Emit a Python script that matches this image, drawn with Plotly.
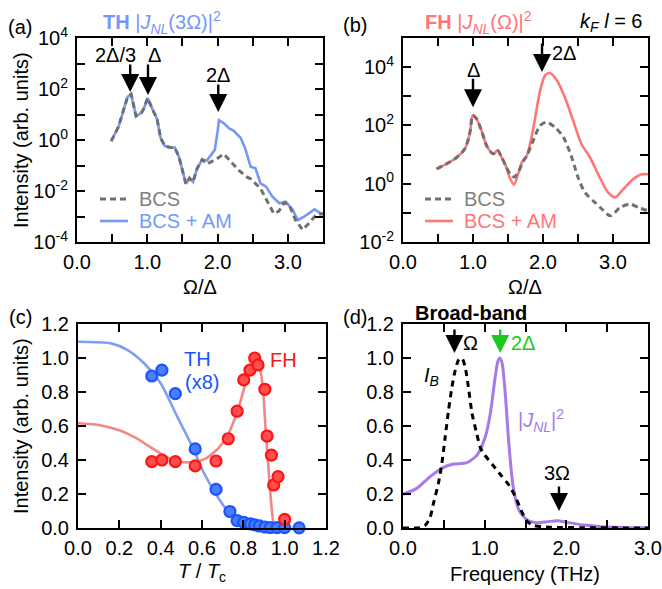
import plotly.graph_objects as go

W, H = 662, 589
FONT = "Liberation Sans, Arial, Helvetica, sans-serif"
FS = 20

# ---------------- (a) third harmonic, log scale ----------------
a_bcs_omega = [0.486, 0.59, 0.72, 0.77, 0.84, 0.92, 0.95, 1.005, 1.07, 1.14, 1.19, 1.25,
               1.33, 1.39, 1.45, 1.50, 1.55, 1.60, 1.65, 1.71, 1.78, 1.85, 1.97, 2.09,
               2.19, 2.30, 2.42, 2.47, 2.61, 2.71, 2.80, 2.87, 2.95, 3.02, 3.11, 3.21,
               3.30, 3.40, 3.50]
a_bcs_int = [0.9, 3.3, 50, 63, 8.7, 12, 17, 44, 17, 6.5, 1.2, 0.58,
             0.51, 0.51, 0.22, 0.066, 0.019, 0.032, 0.023, 0.078, 0.17, 0.115, 0.17, 0.28,
             0.14, 0.066, 0.035, 0.030, 0.0126, 0.0038, 0.0013, 0.0016, 0.0035, 0.0028,
             0.00072, 0.0003, 0.00054, 0.00115, 0.0013]
a_am_omega = [0.486, 0.59, 0.72, 0.77, 0.84, 0.92, 0.95, 1.005, 1.07, 1.14, 1.19, 1.25,
              1.33, 1.39, 1.45, 1.50, 1.55, 1.60, 1.65, 1.71, 1.78, 1.85, 1.88, 1.92,
              1.96, 2.0, 2.02, 2.09, 2.16, 2.23, 2.33, 2.40, 2.47, 2.54, 2.61, 2.69,
              2.78, 2.88, 2.97, 3.07, 3.14, 3.23, 3.38, 3.50]
a_am_int = [0.9, 3.3, 50, 63, 8.7, 12, 17, 44, 17, 6.5, 1.2, 0.58,
            0.51, 0.51, 0.22, 0.066, 0.019, 0.032, 0.023, 0.078, 0.17, 0.16, 0.21, 0.28,
            0.41, 2.1, 6.0, 4.5, 2.9, 2.3, 1.2, 0.41, 0.089, 0.078, 0.020, 0.0148,
            0.006, 0.0033, 0.0038, 0.0018, 0.00072, 0.00098, 0.0019, 0.00115]

# ---------------- (b) fundamental harmonic, log scale ----------------
b_bcs_omega = [0.48, 0.62, 0.77, 0.886, 0.957, 0.996, 1.05, 1.12, 1.20, 1.29, 1.35, 1.41,
               1.47, 1.53, 1.59, 1.65, 1.72, 1.77, 1.86, 1.96, 2.05, 2.17, 2.29, 2.41,
               2.50, 2.60, 2.74, 2.86, 2.96, 3.10, 3.24, 3.37, 3.50]
b_bcs_int = [3.2, 4.8, 8.1, 16, 59, 220, 170, 68, 19, 10.5, 14, 8,
             4, 2.2, 1.7, 2.6, 6, 9.3, 30, 100, 129, 87, 40, 8.1,
             1.66, 0.5, 0.23, 0.123, 0.079, 0.15, 0.2, 0.15, 0.117]
b_am_omega = [0.48, 0.62, 0.77, 0.886, 0.957, 0.996, 1.05, 1.12, 1.20, 1.29, 1.35, 1.41,
              1.47, 1.53, 1.586, 1.65, 1.70, 1.77, 1.86, 1.96, 2.03, 2.10, 2.20, 2.31,
              2.43, 2.55, 2.67, 2.81, 2.93, 3.03, 3.15, 3.29, 3.41, 3.50]
b_am_int = [3.2, 4.8, 8.1, 16, 59, 220, 170, 68, 19, 10.5, 14, 8,
            4, 1.5, 0.93, 2.4, 5.5, 9.3, 78, 1600, 5200, 6300, 3500, 950,
            148, 23, 8.1, 1.66, 0.5, 0.34, 0.66, 1.45, 2.1, 2.1]

# ---------------- (c) temperature dependence ----------------
th_T = [0.357, 0.406, 0.471, 0.567, 0.668, 0.735, 0.77, 0.802, 0.834, 0.855, 0.878,
        0.905, 0.931, 0.963, 1.0, 1.07]
th_I = [0.894, 0.929, 0.79, 0.465, 0.227, 0.097, 0.043, 0.033, 0.024, 0.018, 0.012,
        0.006, 0.003, 0.002, 0.002, 0.001]
fh_T = [0.357, 0.406, 0.471, 0.567, 0.668, 0.727, 0.77, 0.802, 0.832, 0.855, 0.871,
        0.904, 0.915, 0.936, 0.947, 0.968, 1.0]
fh_I = [0.39, 0.40, 0.39, 0.365, 0.394, 0.525, 0.687, 0.871, 0.929, 1.0, 0.959,
        0.816, 0.541, 0.429, 0.253, 0.302, 0.051]
th_fit_T = [0, 0.16, 0.24, 0.32, 0.40, 0.48, 0.55, 0.61, 0.68, 0.74, 0.80, 0.89, 0.97, 1.0]
th_fit_I = [1.096, 1.086, 1.047, 0.969, 0.851, 0.655, 0.488, 0.322, 0.175, 0.076,
            0.031, 0.008, 0.002, 0.001]
fh_fit_T = [0, 0.10, 0.20, 0.28, 0.36, 0.44, 0.50, 0.56, 0.62, 0.68, 0.73, 0.78, 0.82,
            0.853, 0.876, 0.888, 0.898, 0.908, 0.92, 0.932, 0.943, 0.952, 0.96]
fh_fit_I = [0.616, 0.606, 0.575, 0.530, 0.468, 0.41, 0.388, 0.388, 0.41, 0.47, 0.56,
            0.72, 0.89, 0.969, 0.955, 0.89, 0.772, 0.576, 0.38, 0.184, 0.05, 0.008, 0.0]

# ---------------- (d) broad-band excitation ----------------
ib_f = [0, 0.2, 0.27, 0.33, 0.373, 0.434, 0.476, 0.517, 0.558, 0.6, 0.64, 0.68, 0.72,
        0.76, 0.80, 0.845, 0.9, 0.95, 1.0, 1.1, 1.2, 1.3, 1.38, 1.45, 1.52, 1.6, 1.8,
        2.2, 3.0]
ib_I = [0.0, 0.002, 0.015, 0.06, 0.145, 0.263, 0.38, 0.537, 0.694, 0.831, 0.929, 0.988,
        1.0, 0.949, 0.831, 0.675, 0.56, 0.47, 0.43, 0.37, 0.31, 0.25, 0.18, 0.10, 0.04,
        0.015, 0.005, 0.002, 0.0]
jnl_f = [0, 0.168, 0.332, 0.496, 0.619, 0.783, 0.906, 1.008, 1.07, 1.124, 1.16, 1.185,
         1.214, 1.255, 1.296, 1.349, 1.419, 1.521, 1.644, 1.767, 1.89, 2.013, 2.218,
         2.423, 2.833, 3.0]
jnl_I = [0.198, 0.233, 0.302, 0.357, 0.376, 0.384, 0.429, 0.537, 0.675, 0.871, 0.978,
         1.0, 0.969, 0.773, 0.498, 0.243, 0.106, 0.047, 0.031, 0.037, 0.043, 0.033,
         0.017, 0.008, 0.002, 0.001]

# colours
GRAY = "rgb(112,112,112)"
GRAY_TXT = "rgb(128,128,128)"
BLUE_LINE = "rgb(118,152,245)"
RED_LINE = "rgb(255,118,118)"
C_BLUE_FIT = "rgb(125,160,240)"
C_RED_FIT = "rgb(242,135,135)"
PT_BLUE = "rgb(75,125,255)"
PT_BLUE_EDGE = "rgb(25,85,255)"
PT_RED = "rgb(255,80,80)"
PT_RED_EDGE = "rgb(255,20,20)"
PURPLE = "rgb(168,122,232)"
GREEN = "rgb(30,200,30)"


def px(x):
    return x / W


def py(y):
    return 1 - y / H


fig = go.Figure()

# (a)
fig.add_trace(go.Scatter(x=a_am_omega, y=a_am_int, mode="lines", xaxis="x", yaxis="y",
                         line=dict(color=BLUE_LINE, width=2.6)))
fig.add_trace(go.Scatter(x=a_bcs_omega, y=a_bcs_int, mode="lines", xaxis="x", yaxis="y",
                         line=dict(color=GRAY, width=3, dash="6px,4px")))
# (b)
fig.add_trace(go.Scatter(x=b_am_omega, y=b_am_int, mode="lines", xaxis="x2", yaxis="y2",
                         line=dict(color=RED_LINE, width=2.6, shape="spline", smoothing=0.8)))
fig.add_trace(go.Scatter(x=b_bcs_omega, y=b_bcs_int, mode="lines", xaxis="x2", yaxis="y2",
                         line=dict(color=GRAY, width=3, dash="6px,4px", shape="spline",
                                   smoothing=0.8)))
# (c)
fig.add_trace(go.Scatter(x=th_fit_T, y=th_fit_I, mode="lines", xaxis="x3", yaxis="y3",
                         line=dict(color=C_BLUE_FIT, width=2.6, shape="spline", smoothing=0.7)))
fig.add_trace(go.Scatter(x=fh_fit_T, y=fh_fit_I, mode="lines", xaxis="x3", yaxis="y3",
                         line=dict(color=C_RED_FIT, width=2.6, shape="spline", smoothing=0.6)))
fig.add_trace(go.Scatter(x=th_T, y=th_I, mode="markers", xaxis="x3", yaxis="y3",
                         cliponaxis=False,
                         marker=dict(size=11, color=PT_BLUE,
                                     line=dict(color=PT_BLUE_EDGE, width=2.2))))
fig.add_trace(go.Scatter(x=fh_T, y=fh_I, mode="markers", xaxis="x3", yaxis="y3",
                         cliponaxis=False,
                         marker=dict(size=11, color=PT_RED,
                                     line=dict(color=PT_RED_EDGE, width=2.2))))
# (d)
fig.add_trace(go.Scatter(x=jnl_f, y=jnl_I, mode="lines", xaxis="x4", yaxis="y4",
                         line=dict(color=PURPLE, width=3, shape="spline", smoothing=0.7)))
fig.add_trace(go.Scatter(x=ib_f, y=ib_I, mode="lines", xaxis="x4", yaxis="y4",
                         line=dict(color="black", width=3, dash="6px,5px", shape="spline",
                                   smoothing=0.7)))

tickfont = dict(family=FONT, size=FS, color="black")
axis_common = dict(showline=True, linecolor="black", linewidth=2, mirror="ticks",
                   ticks="inside", ticklen=8, tickwidth=1.6, tickcolor="black",
                   showgrid=False, zeroline=False, tickfont=tickfont, automargin=False)

dom_a_x = [px(77), px(323)]
dom_b_x = [px(403), px(648)]
dom_top_y = [py(242), py(38)]
dom_c_x = [px(78), px(326)]
dom_bot_y = [py(528), py(324)]

half_ticks = [0, 0.5, 1, 1.5, 2, 2.5, 3, 3.5]
half_text = ["0.0", "", "1.0", "", "2.0", "", "3.0", ""]

fig.update_layout(
    xaxis=dict(domain=dom_a_x, anchor="y", range=[0, 3.5], tickvals=half_ticks,
               ticktext=half_text, ticklabelstandoff=1, **axis_common),
    yaxis=dict(domain=dom_top_y, anchor="x", type="log", range=[-4, 4],
               tickvals=[1e-4, 1e-3, 1e-2, 1e-1, 1, 10, 100, 1e3, 1e4],
               ticktext=["10<sup>-4</sup>", "", "10<sup>-2</sup>", "", "10<sup>0</sup>", "",
                         "10<sup>2</sup>", "", "10<sup>4</sup>"], ticklabelstandoff=3,
               **axis_common),
    xaxis2=dict(domain=dom_b_x, anchor="y2", range=[0, 3.5], tickvals=half_ticks,
                ticktext=half_text, ticklabelstandoff=1, **axis_common),
    yaxis2=dict(domain=dom_top_y, anchor="x2", type="log", range=[-2, 5],
                tickvals=[1e-2, 1e-1, 1, 10, 100, 1e3, 1e4, 1e5],
                ticktext=["10<sup>-2</sup>", "", "10<sup>0</sup>", "", "10<sup>2</sup>", "",
                          "10<sup>4</sup>", ""], ticklabelstandoff=3, **axis_common),
    xaxis3=dict(domain=dom_c_x, anchor="y3", range=[0, 1.2], dtick=0.2, tick0=0,
                tickformat=".1f", ticklabelstandoff=1, **axis_common),
    yaxis3=dict(domain=dom_bot_y, anchor="x3", range=[0, 1.2], dtick=0.2, tick0=0,
                tickformat=".1f", ticklabelstandoff=3, **axis_common),
    xaxis4=dict(domain=dom_b_x, anchor="y4", range=[0, 3], tickvals=half_ticks[:7],
                ticktext=half_text[:7], ticklabelstandoff=1, **axis_common),
    yaxis4=dict(domain=dom_bot_y, anchor="x4", range=[0, 1.2], dtick=0.2, tick0=0,
                tickformat=".1f", ticklabelstandoff=3, **axis_common),
    width=W, height=H, autosize=False, showlegend=False,
    margin=dict(l=0, r=0, t=0, b=0, pad=0),
    paper_bgcolor="white", plot_bgcolor="white",
    font=dict(family=FONT, size=FS, color="black"),
)

ann = []


def text(x, y, s, color="black", size=FS, angle=0):
    ann.append(dict(x=px(x), y=py(y), xref="paper", yref="paper", text=s, showarrow=False,
                    xanchor="center", yanchor="middle", textangle=angle,
                    font=dict(family=FONT, size=size, color=color)))


def arrow(xr, yr, x, y, ay, color="black"):
    ann.append(dict(x=x, y=y, xref=xr, yref=yr, text="", showarrow=True, ax=0, ay=ay,
                    arrowhead=2, arrowsize=1.5, arrowwidth=2.4, arrowcolor=color))


# panel letters
text(20, 27, "(a)")
text(355, 25, "(b)")
text(20, 317, "(c)")
text(355, 317, "(d)")

# panel titles
text(162, 22, "<b>TH</b> |<i>J</i><sub><i>NL</i></sub>(3Ω)|<sup>2</sup>", BLUE_LINE)
text(478, 22, "<b>FH</b> |<i>J</i><sub><i>NL</i></sub>(Ω)|<sup>2</sup>", RED_LINE)
text(611, 22, "<i>k</i><sub><i>F</i></sub> <i>l</i> = 6")
text(471, 313, "<b>Broad-band</b>")

# axis titles
text(21, 140, "Intensity (arb. units)", angle=-90)
text(21, 426, "Intensity (arb. units)", angle=-90)
text(200, 287, "Ω/Δ")
text(525, 287, "Ω/Δ")
text(202, 572, "<i>T</i> / <i>T</i><sub>c</sub>")
text(525, 574, "Frequency (THz)")

# (a) markers of characteristic frequencies
text(115, 55, "2Δ/3")
text(154, 55, "Δ")
text(218, 75, "2Δ")
arrow("x", "y", 0.757, 1.88, -29)
arrow("x", "y", 1.01, 1.76, -32)
arrow("x", "y", 2.01, 1.10, -29)

# (b) markers
text(473, 70, "Δ")
text(564, 53, "2Δ")
arrow("x2", "y2", 1.0, 2.62, -30)
arrow("x2", "y2", 1.986, 3.83, -30)

# (c) labels
text(197, 359, "TH", PT_BLUE_EDGE)
text(202, 382, "(x8)", PT_BLUE_EDGE)
text(283, 360, "FH", PT_RED_EDGE)

# (d) labels and markers
text(470, 343, "Ω")
text(523, 343, "2Δ", GREEN)
text(431, 376, "<i>I</i><sub><i>B</i></sub>")
text(541, 420, "|<i>J</i><sub><i>NL</i></sub>|<sup>2</sup>", PURPLE)
text(557, 473, "3Ω")
arrow("x4", "y4", 0.63, 1.03, -25)
arrow("x4", "y4", 1.19, 1.03, -25, GREEN)
arrow("x4", "y4", 1.91, 0.10, -26)

# legend keys for (a) and (b)
shapes = []
for x0, am_color in [(100, BLUE_LINE), (425, RED_LINE)]:
    shapes.append(dict(type="line", xref="paper", yref="paper", x0=px(x0), x1=px(x0 + 28),
                       y0=py(199), y1=py(199), line=dict(color=GRAY, width=3, dash="6px,4px")))
    shapes.append(dict(type="line", xref="paper", yref="paper", x0=px(x0), x1=px(x0 + 28),
                       y0=py(221), y1=py(221), line=dict(color=am_color, width=2.6)))
    ann.append(dict(x=px(x0 + 37), y=py(199), xref="paper", yref="paper", text="BCS",
                    showarrow=False, xanchor="left", yanchor="middle",
                    font=dict(family=FONT, size=FS, color=GRAY_TXT)))
    ann.append(dict(x=px(x0 + 37), y=py(221), xref="paper", yref="paper", text="BCS + AM",
                    showarrow=False, xanchor="left", yanchor="middle",
                    font=dict(family=FONT, size=FS, color=am_color)))

fig.update_layout(annotations=ann, shapes=shapes)
fig.write_html("out.html")
